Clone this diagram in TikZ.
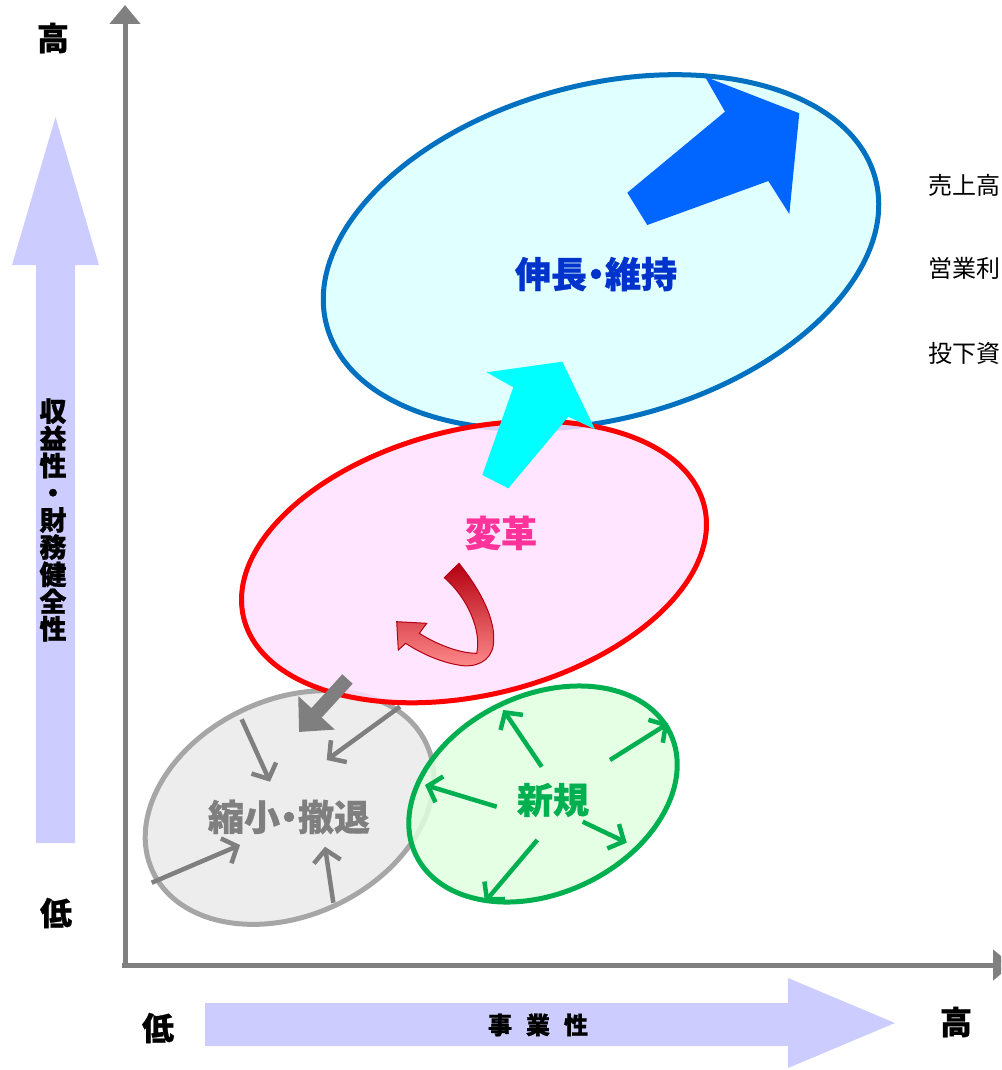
\documentclass[tikz,border=0pt]{standalone}
\usepackage{fontspec}
\newfontfamily\jp{Noto Sans CJK JP}[RawFeature=+palt, BoldFeatures={FakeBold=0.8}]
\newfontfamily\jpn{Noto Sans CJK JP}
\usetikzlibrary{arrows.meta}
\definecolor{axisgray}{RGB}{128,128,128}
\definecolor{lav}{RGB}{204,204,255}
\definecolor{blueline}{RGB}{0,112,192}
\definecolor{bluefill}{RGB}{224,255,255}
\definecolor{bluetext}{RGB}{0,51,204}
\definecolor{bluearrow}{RGB}{0,102,255}
\definecolor{cyanarrow}{RGB}{0,255,255}
\definecolor{pinkfill}{RGB}{255,224,255}
\definecolor{pinktext}{RGB}{255,51,153}
\definecolor{grayline}{RGB}{166,166,166}
\definecolor{grayfill}{RGB}{237,237,237}
\definecolor{graytext}{RGB}{127,127,127}
\definecolor{greenline}{RGB}{0,176,80}
\definecolor{greenfill}{RGB}{224,255,224}
\definecolor{darkred}{RGB}{180,0,16}
\definecolor{lightred}{RGB}{255,140,140}
\begin{document}
\begin{tikzpicture}[x=1pt,y=-1pt,
  bigtxt/.style={font=\jp\bfseries\fontsize{36}{40}\selectfont, inner sep=0pt},
  axtxt/.style={font=\jp\bfseries\fontsize{32}{36}\selectfont, inner sep=0pt, text=black},
  sidetxt/.style={font=\jpn\fontsize{24}{28}\selectfont, inner sep=0pt, anchor=west, text=black},
  thinarrow/.style={line width=4.5pt, -{Straight Barb[length=12pt,width=27pt]}},
  axisline/.style={draw=axisgray, line width=5pt, -{Triangle[length=19pt,width=30pt]}}
]
\useasboundingbox (0,0) rectangle (1001,1070);
\clip (0,0) rectangle (1001,1070);

% axes
\coordinate (origin) at (125,965);
\coordinate (ytop) at (125,5);
\coordinate (xright) at (1012,965);
\draw[axisline] (origin) -- (ytop);
\draw[axisline] (122,965) -- (xright);

% lavender arrows
\fill[lav] (36,843) -- (36,265) -- (12,265) -- (55.5,117) -- (99,265) -- (75,265) -- (75,843) -- cycle;
\fill[lav] (205,1003) -- (788,1003) -- (788,978) -- (895,1023) -- (788,1068) -- (788,1046) -- (205,1046) -- cycle;

% axis labels
\node[axtxt] (yhigh) at (53,38) {高};
\node[axtxt] (ylow) at (56,913) {低};
\node[axtxt] (xlow) at (158,1028) {低};
\node[axtxt] (xhigh) at (956,1022) {高};
\node[font=\jp\bfseries\fontsize{27}{27.2}\selectfont, align=center, inner sep=0pt, text=black] (ylabel) at (53,520) {収\\益\\性\\・\\財\\務\\健\\全\\性};
\node[font=\jp\bfseries\fontsize{24}{28}\selectfont, inner sep=0pt, text=black] (xlabel) at (538,1025) {事\hspace{14pt}業\hspace{14pt}性};

% right side texts
\node[sidetxt] (t1) at (928,185) {売上高};
\node[sidetxt] (t2) at (928,268) {営業利};
\node[sidetxt] (t3) at (928,353) {投下資};

% blue ellipse
\draw[blueline, line width=5pt, fill=bluefill, rotate around={15:(601,252)}] (601,252) ellipse [x radius=284, y radius=167];
\fill[bluearrow] (627.3,192.7) -- (725,111.7) -- (705,76.7) -- (799.3,113.3) -- (789.3,214) -- (768.3,181) -- (647.3,225) -- cycle;
\node[bigtxt, text=bluetext] (grow) at (596,274) {伸長・維持};

% gray ellipse
\draw[grayline, line width=5pt, fill=grayfill, rotate around={25:(289.5,807.5)}] (289.5,807.5) ellipse [x radius=151, y radius=108];

% pink ellipse
\draw[red, line width=5pt, fill=pinkfill, fill opacity=0.85, rotate around={13.6:(474,562)}] (474,562) ellipse [x radius=237, y radius=133];

% cyan arrow
\fill[cyanarrow] (482.3,475) -- (513.3,387.3) -- (486.7,372.3) -- (562.3,361.7) -- (595,429.3) -- (568.3,416.7) -- (508.3,488.3) -- cycle;
\node[bigtxt, text=pinktext] (change) at (501,533) {変革};

% red curved arrow
\path[draw=darkred, line width=1pt, top color=darkred, bottom color=lightred]
  (459,563.3) .. controls (481.7,591.7) and (496.7,621.7) .. (493.3,645)
  .. controls (491,661.7) and (475,668.3) .. (458.3,665)
  .. controls (438.3,661.7) and (418.3,651.7) .. (405.7,643.3)
  -- (398.3,650) -- (396.7,621.7) -- (426.7,623.3) -- (419.3,633.3)
  .. controls (435,643.3) and (458.3,653.3) .. (476.7,653.3)
  .. controls (481.7,631.7) and (468.3,598.3) .. (444.3,577.7) -- cycle;

% green ellipse
\draw[greenline, line width=5pt, fill=greenfill, fill opacity=0.85, rotate around={25.5:(543,794)}] (543,794) ellipse [x radius=141, y radius=99];

% gray arrows
\coordinate (gbs) at (347.5,679);
\coordinate (gbe) at (299,732);
\draw[graytext, line width=14pt, -{Triangle[length=26pt,width=48pt]}] (gbs) -- (gbe);
\coordinate (ga1) at (241.7,719.3); \coordinate (gb1) at (270,781.7);
\coordinate (ga2) at (400,706.7);   \coordinate (gb2) at (326.7,760);
\coordinate (ga3) at (151.7,882.7); \coordinate (gb3) at (240,845);
\coordinate (ga4) at (333.3,902.7); \coordinate (gb4) at (325,846.7);
\draw[graytext, thinarrow] (ga1) -- (gb1);
\draw[graytext, thinarrow] (ga2) -- (gb2);
\draw[graytext, thinarrow] (ga3) -- (gb3);
\draw[graytext, thinarrow] (ga4) -- (gb4);
\node[bigtxt, text=graytext] (shrink) at (289,817) {縮小・撤退};

% green arrows
\coordinate (na1) at (541.7,766.7); \coordinate (nb1) at (503.3,710);
\coordinate (na2) at (610,760);     \coordinate (nb2) at (668.3,723.3);
\coordinate (na3) at (496.7,806.7); \coordinate (nb3) at (425,785);
\coordinate (na4) at (582.7,821.7); \coordinate (nb4) at (626.7,842.7);
\coordinate (na5) at (537.3,840);   \coordinate (nb5) at (485,901.7);
\draw[greenline, thinarrow] (na1) -- (nb1);
\draw[greenline, thinarrow] (na2) -- (nb2);
\draw[greenline, thinarrow] (na3) -- (nb3);
\draw[greenline, thinarrow] (na4) -- (nb4);
\draw[greenline, thinarrow] (na5) -- (nb5);
\node[bigtxt, text=greenline] (new) at (553,800) {新規};
\end{tikzpicture}
\end{document}
